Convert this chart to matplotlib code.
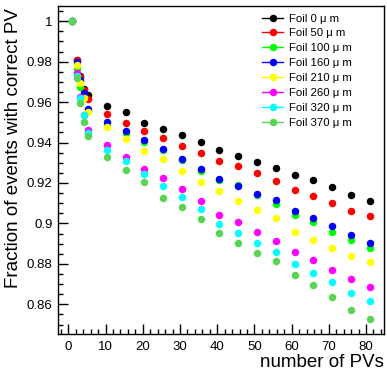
import matplotlib
matplotlib.use('Agg')
import matplotlib.pyplot as plt
from matplotlib.ticker import MultipleLocator, FormatStrFormatter

plt.rcParams['font.family'] = ['Liberation Sans', 'DejaVu Sans']

# number of PVs (points sit slightly right of the integer ticks)
npv = [1.0, 2.2, 3.2, 4.2, 5.3, 10.3, 15.4, 20.4, 25.5, 30.5, 35.6, 40.6,
       45.7, 50.7, 55.8, 60.8, 65.8, 70.9, 75.9, 81.0]

labels = ['Foil 0 \u03bc m', 'Foil 50 \u03bc m', 'Foil 100 \u03bc m', 'Foil 160 \u03bc m',
          'Foil 210 \u03bc m', 'Foil 260 \u03bc m', 'Foil 320 \u03bc m', 'Foil 370 \u03bc m']
colors = ['#000000', '#ff0000', '#00ff00', '#0000ff',
          '#ffff00', '#ff00ff', '#00ffff', '#59d454']

foil_0 = [1.0, 0.981, 0.9728, 0.9665, 0.9636, 0.9583, 0.9551, 0.9499, 0.9468, 0.9439,
          0.9404, 0.9364, 0.9336, 0.9304, 0.9272, 0.9238, 0.9213, 0.9178, 0.9142, 0.9111]
foil_50 = [1.0, 0.981, 0.9726, 0.966, 0.9615, 0.9539, 0.9498, 0.9458, 0.9422, 0.9381,
           0.9346, 0.9309, 0.9284, 0.9249, 0.9211, 0.9165, 0.9134, 0.9099, 0.9060, 0.9037]
foil_100 = [1.0, 0.9765, 0.9674, 0.963, 0.9555, 0.9488, 0.9447, 0.9404, 0.9361, 0.9313,
            0.9261, 0.9215, 0.9190, 0.9143, 0.9096, 0.9043, 0.9007, 0.8956, 0.8917, 0.8879]
foil_160 = [1.0, 0.980, 0.971, 0.9645, 0.9568, 0.9503, 0.9458, 0.9412, 0.9369, 0.9318,
            0.9267, 0.9220, 0.9183, 0.9147, 0.9114, 0.9063, 0.9029, 0.8988, 0.8943, 0.8905]
foil_210 = [1.0, 0.9784, 0.9694, 0.962, 0.9549, 0.9475, 0.9417, 0.9360, 0.9320, 0.9259,
            0.9206, 0.9160, 0.9113, 0.9068, 0.9025, 0.8960, 0.8917, 0.8879, 0.8841, 0.8808]
foil_260 = [1.0, 0.9745, 0.9625, 0.9537, 0.9460, 0.9389, 0.9331, 0.9269, 0.9225, 0.9172,
            0.9111, 0.9043, 0.9005, 0.8958, 0.8915, 0.8857, 0.8818, 0.8772, 0.8727, 0.8686]
foil_320 = [1.0, 0.973, 0.962, 0.9534, 0.9447, 0.9361, 0.9307, 0.9244, 0.9183, 0.9131,
            0.9072, 0.8999, 0.8953, 0.8902, 0.8859, 0.8798, 0.8754, 0.8708, 0.8655, 0.8614]
foil_370 = [1.0, 0.9717, 0.9595, 0.9504, 0.9430, 0.9328, 0.9264, 0.9205, 0.9126, 0.9080,
            0.9020, 0.8955, 0.8902, 0.8856, 0.8813, 0.8746, 0.8694, 0.8635, 0.8573, 0.8525]

series = [foil_0, foil_50, foil_100, foil_160, foil_210, foil_260, foil_320, foil_370]

fig = plt.figure(figsize=(3.87, 3.71), dpi=100)
ax = fig.add_axes([0.1506, 0.0997, 0.8424, 0.8833])

for vals, lab, col in zip(series, labels, colors):
    ax.plot(npv, vals, linestyle='none', marker='o', markersize=5.4,
            markeredgewidth=0, color=col, label=lab)

ax.set_xlim(-2.7, 84.9)
ax.set_ylim(0.8453, 1.0074)

ax.xaxis.set_major_locator(MultipleLocator(10))
ax.xaxis.set_minor_locator(MultipleLocator(2))
ax.yaxis.set_major_locator(MultipleLocator(0.02))
ax.yaxis.set_minor_locator(MultipleLocator(0.005))
ax.yaxis.set_major_formatter(FormatStrFormatter('%g'))

ax.tick_params(which='both', direction='in', top=False, right=False, labelsize=9.5)
ax.tick_params(which='major', length=7, width=1)
ax.tick_params(which='minor', length=3.5, width=1)
ax.tick_params(axis='y', pad=4)
ax.tick_params(axis='x', pad=5)
for sp in ax.spines.values():
    sp.set_linewidth(1.0)

ax.set_xlabel('number of PVs', fontsize=13.5, loc='right')
ax.xaxis.set_label_coords(1.0, -0.062)
ax.set_ylabel('Fraction of events with correct PV', fontsize=13.5, loc='top')
ax.yaxis.set_label_coords(-0.11, 0.995)

leg = ax.legend(loc='upper left', bbox_to_anchor=(0.626, 0.978), frameon=False,
                fontsize=8.2, handlelength=1.85, handletextpad=0.45,
                labelspacing=0.43, borderaxespad=0, borderpad=0)
for h in leg.legend_handles:
    h.set_linestyle('-')
    h.set_linewidth(1.0)

fig.savefig('out.png', dpi=100)
